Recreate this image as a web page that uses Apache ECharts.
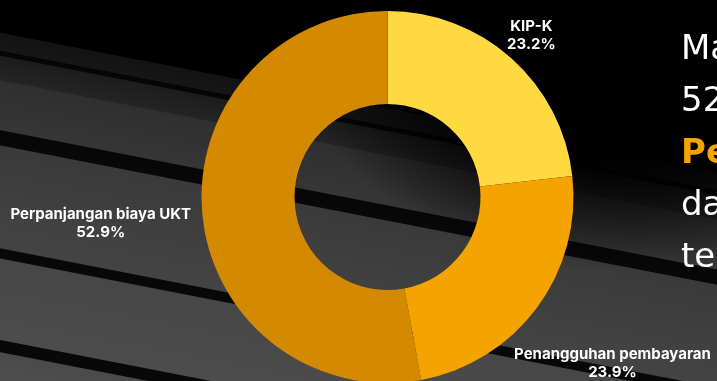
<!DOCTYPE html>
<html>
<head>
<meta charset="utf-8">
<script src="https://cdn.jsdelivr.net/npm/echarts@6/dist/echarts.min.js"></script>
<style>
  html, body { margin: 0; padding: 0; }
  body { width: 717px; height: 381px; overflow: hidden; background: #000; }
  #bg {
    position: absolute; left: 0; top: 0; width: 717px; height: 381px;
    background:
      radial-gradient(ellipse 330px 240px at 620px 30px, rgba(0,0,0,1) 0%, rgba(0,0,0,0.97) 55%, rgba(0,0,0,0) 100%),
      linear-gradient(191deg,
        #000 0px, #000 169px,
        #131313 169px, #161616 186px,
        #050505 187px, #060606 191px,
        #1d1d1d 192px, #242424 215px,
        #2f2f2f 216px, #363636 264px,
        #070707 265px, #080808 279px,
        #3a3a3a 280px, #444 380px,
        #080808 381px, #080808 390px,
        #474747 391px, #4c4c4c 470px,
        #080808 471px, #080808 482px,
        #4a4a4a 483px, #505050 520px);
  }
  #chart { position: absolute; left: 0; top: 0; width: 717px; height: 381px; }
</style>
</head>
<body>
<div id="bg"></div>
<div id="chart"></div>
<script>
const categories = ['KIP-K', 'Penangguhan pembayaran', 'Perpanjangan biaya UKT'];
const values = [23.2, 23.9, 52.9];
const sliceColors = ['#FFD940', '#F5A300', '#D48A00'];
const labelRadii = [216, 280, 288];
const sideLines = ['Mayoritas', '52.9%', 'Perpanjangan', 'dari', 'terbanyak'];

const cx = 387.5, cy = 197;
const total = values.reduce((a, b) => a + b, 0);
const midAngles = [];
let acc = 0;
values.forEach(v => { midAngles.push((acc + v / 2) / total * Math.PI * 2); acc += v; });

const chart = echarts.init(document.getElementById('chart'), null, { renderer: 'canvas' });
const labelFont = 'Inter, "Open Sans", "Noto Sans", sans-serif';
const sideFont = '"DejaVu Sans", "Noto Sans", sans-serif';

chart.setOption({
  backgroundColor: 'transparent',
  animation: false,
  graphic: sideLines.map((t, i) => ({
    type: 'text',
    left: 681,
    top: 33 + i * 52,
    style: {
      text: t,
      fill: i === 2 ? '#F5A300' : '#ffffff',
      font: (i === 2 ? 'bold ' : 'normal ') + '34px ' + sideFont
    }
  })),
  series: [{
    type: 'pie',
    center: [cx, cy],
    radius: [93, 186],
    startAngle: 90,
    clockwise: true,
    avoidLabelOverlap: false,
    data: categories.map((c, i) => ({ name: c, value: values[i], itemStyle: { color: sliceColors[i] } })),
    itemStyle: { borderWidth: 0 },
    emphasis: { disabled: true },
    labelLine: { show: false },
    label: {
      show: true,
      position: 'outside',
      color: '#ffffff',
      fontFamily: labelFont,
      fontWeight: 'bold',
      fontSize: 15,
      lineHeight: 18,
      align: 'center',
      formatter: p => p.name + '\n' + p.value.toFixed(1) + '%'
    },
    labelLayout: function (params) {
      const i = params.dataIndex;
      const a = midAngles[i];
      const r = labelRadii[i];
      return {
        x: cx + r * Math.sin(a),
        y: cy - r * Math.cos(a),
        align: 'center',
        verticalAlign: 'middle'
      };
    }
  }]
});
</script>
</body>
</html>
